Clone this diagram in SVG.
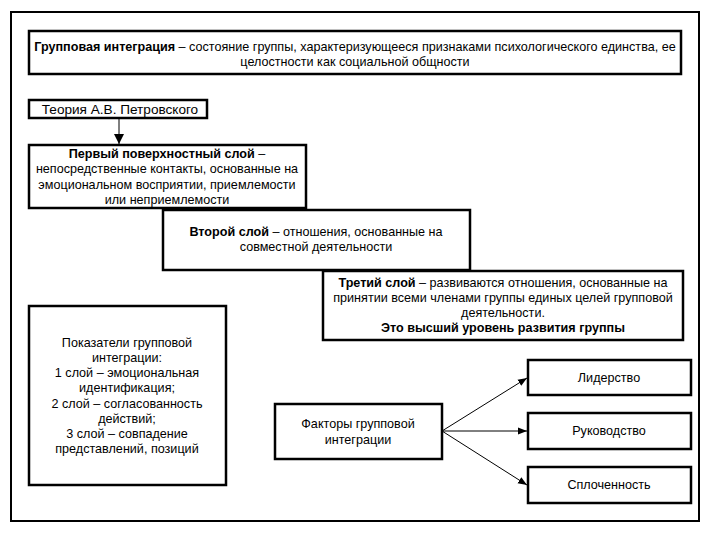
<svg xmlns="http://www.w3.org/2000/svg" width="720" height="540" viewBox="0 0 720 540">
<defs>
<style>
.box{fill:#fff;stroke:#000;stroke-width:2.5}
.frame{fill:#fff;stroke:#000;stroke-width:2}
text{font-family:"Liberation Sans",Arial,sans-serif;font-size:12.6px;fill:#000;text-anchor:middle}
.b{font-weight:bold}
.ln{stroke:#000;stroke-width:1;fill:none}
</style>
<marker id="ah" viewBox="0 0 10 10" refX="10" refY="5" markerWidth="9" markerHeight="9" markerUnits="userSpaceOnUse" orient="auto">
<path d="M0,1 L10,5 L0,9 z" fill="#000"/>
</marker>
<marker id="ah2" viewBox="0 0 10 10" refX="10" refY="5" markerWidth="10" markerHeight="10" markerUnits="userSpaceOnUse" orient="auto">
<path d="M0,0 L10,5 L0,10 z" fill="#000"/>
</marker>
</defs>
<rect width="720" height="540" fill="#fff"/>
<rect class="frame" x="11" y="12" width="688" height="509"/>

<g id="title">
<rect class="box" x="29" y="31" width="652" height="43"/>
<text x="355" y="51"><tspan class="b">Групповая интеграция</tspan> – состояние группы, характеризующееся признаками психологического единства, ее</text>
<text x="355" y="66">целостности как социальной общности</text>
</g>

<g id="theory">
<rect class="box" x="29" y="100" width="178" height="18"/>
<text x="120" y="114" style="font-size:13.6px">Теория А.В. Петровского</text>
</g>

<g id="layer1">
<rect class="box" x="29" y="145" width="277" height="63"/>
<text x="167" y="158"><tspan class="b">Первый поверхностный слой</tspan> –</text>
<text x="167" y="173">непосредственные контакты, основанные на</text>
<text x="167" y="189">эмоциональном восприятии, приемлемости</text>
<text x="167" y="204">или неприемлемости</text>
</g>

<g id="layer2">
<rect class="box" x="163" y="210" width="307" height="60"/>
<text x="316" y="236"><tspan class="b">Второй слой</tspan> – отношения, основанные на</text>
<text x="316" y="251">совместной деятельности</text>
</g>

<g id="layer3">
<rect class="box" x="323" y="271" width="360" height="69"/>
<text x="503" y="287"><tspan class="b">Третий слой</tspan> – развиваются отношения, основанные на</text>
<text x="503" y="302">принятии всеми членами группы единых целей групповой</text>
<text x="503" y="317">деятельности.</text>
<text x="503" y="332" class="b">Это высший уровень развития группы</text>
</g>

<g id="indicators">
<rect class="box" x="29" y="306" width="197" height="179"/>
<text x="127" y="347">Показатели групповой</text>
<text x="127" y="362">интеграции:</text>
<text x="127" y="377">1 слой – эмоциональная</text>
<text x="127" y="392">идентификация;</text>
<text x="127" y="408">2 слой – согласованность</text>
<text x="127" y="423">действий;</text>
<text x="127" y="438">3 слой – совпадение</text>
<text x="127" y="453">представлений, позиций</text>
</g>

<g id="factors">
<rect class="box" x="275" y="404" width="167" height="55"/>
<text x="358" y="428">Факторы групповой</text>
<text x="358" y="444">интеграции</text>
</g>

<g id="leadership">
<rect class="box" x="528" y="360" width="163" height="35"/>
<text x="609" y="382">Лидерство</text>
</g>

<g id="management">
<rect class="box" x="528" y="413" width="163" height="36"/>
<text x="609" y="435">Руководство</text>
</g>

<g id="cohesion">
<rect class="box" x="528" y="467" width="163" height="36"/>
<text x="609" y="489">Сплоченность</text>
</g>

<g id="connectors">
<line class="ln" x1="119" y1="118" x2="119" y2="144" marker-end="url(#ah2)"/>
<line class="ln" x1="442" y1="431" x2="527" y2="378" marker-end="url(#ah)"/>
<line class="ln" x1="442" y1="431" x2="527" y2="431" marker-end="url(#ah)"/>
<line class="ln" x1="442" y1="431" x2="527" y2="485" marker-end="url(#ah)"/>
</g>
</svg>
